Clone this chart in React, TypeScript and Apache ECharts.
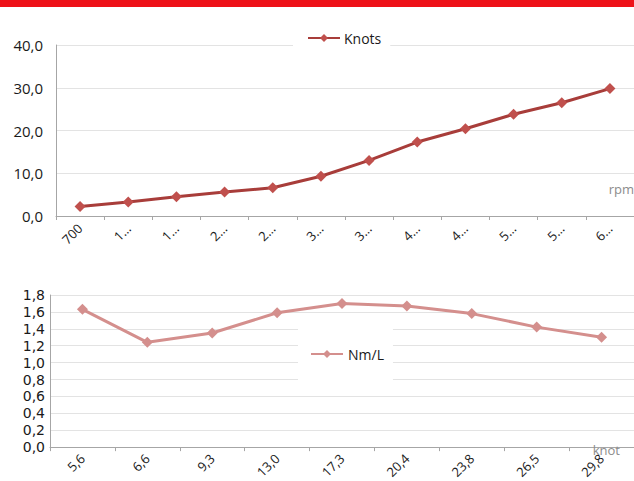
import React, { useEffect, useRef } from "react";
import * as echarts from "echarts";

const rpmCategories = ["700", "1000", "1500", "2000", "2500", "3000", "3500", "4000", "4500", "5000", "5500", "6000"];
const knotsValues = [2.2, 3.3, 4.5, 5.6, 6.6, 9.3, 13.0, 17.3, 20.4, 23.8, 26.5, 29.8];
const knotCategories = ["5,6", "6,6", "9,3", "13,0", "17,3", "20,4", "23,8", "26,5", "29,8"];
const nmlValues = [1.63, 1.24, 1.35, 1.59, 1.7, 1.67, 1.58, 1.42, 1.3];
const topAxisName = "rpm";
const bottomAxisName = "knot";

const FONT = "'Open Sans', 'Noto Sans', sans-serif";
const fmt = (v: number) => v.toFixed(1).replace(".", ",");

export default function App() {
  const ref = useRef<HTMLDivElement>(null);
  useEffect(() => {
    document.body.style.margin = "0";
    const chart = echarts.init(ref.current!, undefined, { renderer: "svg" });
    const axisLineStyle = { lineStyle: { color: "#a6a6a6", width: 1 } };
    chart.setOption({
      animation: false,
      textStyle: { fontFamily: FONT },
      graphic: [
        { type: "rect", shape: { x: 0, y: 0, width: 634, height: 7 }, style: { fill: "#ee1118" }, z: 100 },
        {
          type: "text",
          right: 0,
          top: 182,
          style: { text: topAxisName, fill: "#8c8c8c", fontSize: 13, fontFamily: FONT },
          z: 100,
        },
        {
          type: "text",
          right: 14,
          top: 443,
          style: { text: bottomAxisName, fill: "#8c8c8c", fontSize: 13, fontFamily: FONT },
          z: 100,
        },
      ],
      legend: [
        {
          data: ["Knots"],
          left: 293,
          top: 24,
          padding: [7, 9, 7, 14],
          backgroundColor: "#ffffff",
          itemWidth: 32,
          itemHeight: 10,
          itemGap: 4,
          textStyle: { fontSize: 14, color: "#1a1a1a", fontFamily: FONT, padding: [0, 0, 0, -1] },
          z: 10,
        },
        {
          data: ["Nm/L"],
          left: 298,
          top: 320,
          padding: [27, 9, 27, 12],
          backgroundColor: "#ffffff",
          itemWidth: 32,
          itemHeight: 10,
          textStyle: { fontSize: 14, color: "#1a1a1a", fontFamily: FONT },
          z: 10,
        },
      ],
      grid: [
        { left: 56, top: 45, width: 582, height: 171 },
        { left: 50, top: 295, width: 585, height: 153 },
      ],
      xAxis: [
        {
          type: "category",
          gridIndex: 0,
          data: rpmCategories,
          boundaryGap: true,
          axisLine: axisLineStyle,
          axisTick: { show: true, length: 4, lineStyle: { color: "#a6a6a6" } },
          axisLabel: {
            interval: 0,
            rotate: 45,
            fontSize: 13,
            color: "#1a1a1a",
            margin: 10,
            width: 24,
            overflow: "truncate",
            ellipsis: "…",
            fontFamily: FONT,
          },
        },
        {
          type: "category",
          gridIndex: 1,
          data: knotCategories,
          boundaryGap: true,
          axisLine: axisLineStyle,
          axisTick: { show: true, length: 4, lineStyle: { color: "#a6a6a6" } },
          axisLabel: {
            interval: 0,
            rotate: 45,
            fontSize: 13,
            color: "#1a1a1a",
            margin: 9,
            fontFamily: FONT,
          },
        },
      ],
      yAxis: [
        {
          type: "value",
          gridIndex: 0,
          min: 0,
          max: 40,
          interval: 10,
          axisLine: { show: true, ...axisLineStyle },
          axisTick: { show: false },
          splitLine: { lineStyle: { color: "#e3e3e3", width: 1 } },
          axisLabel: { formatter: fmt, fontSize: 15, color: "#1a1a1a", margin: 13, fontFamily: FONT },
        },
        {
          type: "value",
          gridIndex: 1,
          min: 0,
          max: 1.8,
          interval: 0.2,
          axisLine: { show: true, ...axisLineStyle },
          axisTick: { show: false },
          splitLine: { lineStyle: { color: "#e3e3e3", width: 1 } },
          axisLabel: {
            formatter: fmt,
            fontSize: 14,
            lineHeight: 14,
            color: "#1a1a1a",
            margin: 5,
            fontFamily: "'DejaVu Sans', sans-serif",
          },
        },
      ],
      series: [
        {
          name: "Knots",
          type: "line",
          xAxisIndex: 0,
          yAxisIndex: 0,
          data: knotsValues,
          symbol: "diamond",
          symbolSize: 11,
          lineStyle: { color: "#a83d3a", width: 3 },
          itemStyle: { color: "#c0504d", borderWidth: 0 },
        },
        {
          name: "Nm/L",
          type: "line",
          xAxisIndex: 1,
          yAxisIndex: 1,
          data: nmlValues,
          symbol: "diamond",
          symbolSize: 11,
          lineStyle: { color: "#d48f8d", width: 3 },
          itemStyle: { color: "#d48f8d", borderWidth: 0 },
        },
      ],
    });
    return () => chart.dispose();
  }, []);
  return (
    <div
      ref={ref}
      style={{ position: "fixed", left: 0, top: 0, width: 634, height: 481, background: "#ffffff" }}
    />
  );
}
